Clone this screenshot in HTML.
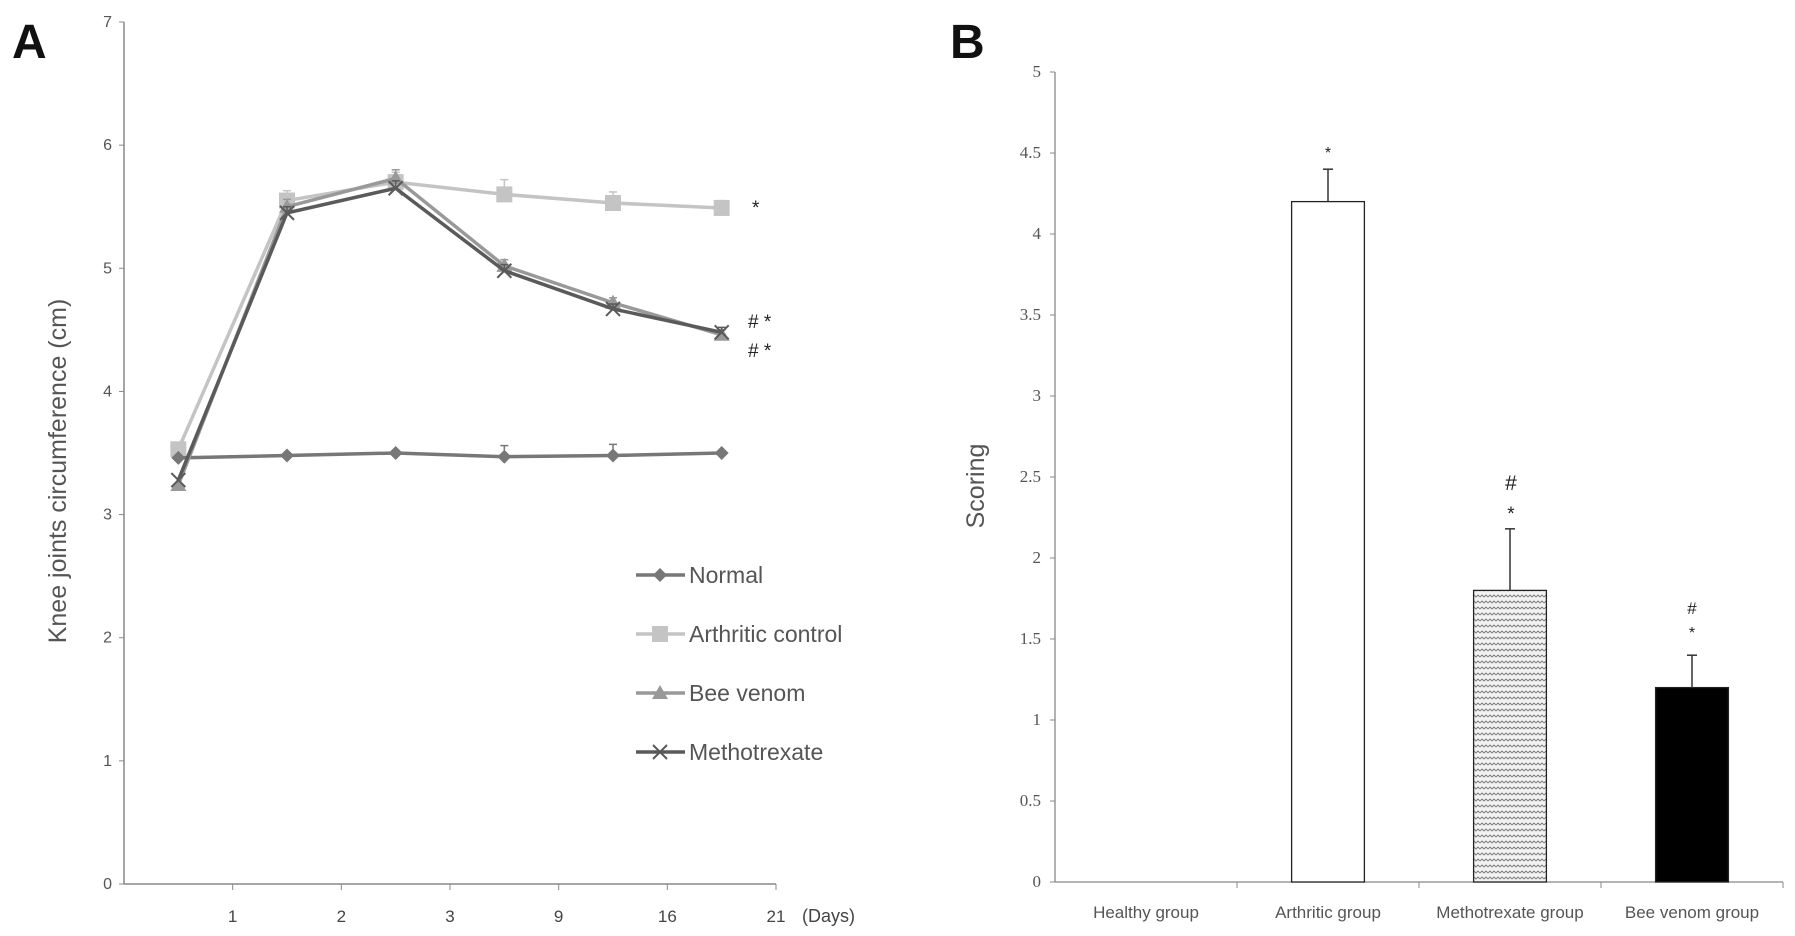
<!DOCTYPE html>
<html><head><meta charset="utf-8"><style>
body{margin:0;background:#fff;}
svg{display:block;}
text{font-family:"Liberation Sans",sans-serif;}
</style></head><body>
<svg id="s" width="1795" height="936" viewBox="0 0 1795 936" xmlns="http://www.w3.org/2000/svg">
<defs>
<pattern id="zig" width="8" height="6" patternUnits="userSpaceOnUse">
<rect width="8" height="6" fill="#f2f2f2"/>
<path d="M0 3 L2 1 L4 3 L6 1 L8 3" fill="none" stroke="#777" stroke-width="0.9"/>
</pattern>
</defs>
<text x="12" y="58" font-size="48" font-weight="bold" fill="#111">A</text>
<text x="950" y="58" font-size="48" font-weight="bold" fill="#111">B</text>
<g id="A"></g>
<g id="B"></g>
</svg>
<script>
const NS="http://www.w3.org/2000/svg";
const lineCats=["1","2","3","9","16","21"];
const yTicksA=[0,1,2,3,4,5,6,7];
const normal=[3.46,3.48,3.5,3.47,3.48,3.5];
const normalErr=[0,0,0,0.09,0.09,0];
const arthritic=[3.53,5.55,5.7,5.6,5.53,5.49];
const arthriticErr=[0,0.08,0.08,0.12,0.09,0.06];
const beeVenom=[3.24,5.5,5.73,5.02,4.72,4.46];
const beeErr=[0,0.06,0.07,0.05,0.04,0.04];
const methotrexate=[3.28,5.45,5.65,4.98,4.67,4.48];
const metErr=[0,0.05,0.06,0.05,0.04,0.04];
const barCats=["Healthy group","Arthritic group","Methotrexate group","Bee venom group"];
const barVals=[0,4.2,1.8,1.2];
const barErrs=[0,0.2,0.38,0.2];
const yTicksB=[0,0.5,1,1.5,2,2.5,3,3.5,4,4.5,5];

function mk(tag,attrs,parent,txt){const e=document.createElementNS(NS,tag);for(const k in attrs)e.setAttribute(k,attrs[k]);if(txt!==undefined)e.textContent=txt;parent.appendChild(e);return e;}

// Panel A
const A=document.getElementById('A');
const ax0=124,ax1=776,ay0=884,ay1=22;
const ya=v=>ay0-(v/7)*(ay0-ay1);
const step=(ax1-ax0)/lineCats.length;
const xp=i=>ax0+step*(i+0.5);
let e;
e=mk('line',{x1:ax0,y1:ay1,x2:ax0,y2:ay0,stroke:'#888','stroke-width':1.5},A);

e=mk('line',{x1:ax0,y1:ay0,x2:ax1,y2:ay0,stroke:'#888','stroke-width':1.5},A);

yTicksA.forEach(v=>{
 mk('line',{x1:ax0-5,y1:ya(v),x2:ax0,y2:ya(v),stroke:'#888'},A);
 e=mk('text',{x:ax0-12,y:ya(v)+5,'font-size':16,fill:'#555','text-anchor':'end'},A,v);
 
});
lineCats.forEach((c,i)=>{
 const x=ax0+step*(i+1);
 mk('line',{x1:x,y1:ay0,x2:x,y2:ay0+6,stroke:'#888'},A);
 e=mk('text',{x:x,y:ay0+38,'font-size':17,fill:'#444','text-anchor':'middle'},A,c);
 
});
e=mk('text',{x:802,y:922,'font-size':18,fill:'#444'},A,'(Days)');

e=mk('text',{x:0,y:0,'font-size':25,fill:'#555','text-anchor':'middle',transform:'translate(66,471) rotate(-90)'},A,'Knee joints circumference (cm)');


function marker(type,x,y,col,g){
 if(type==='diamond')return mk('path',{d:`M${x} ${y-7}L${x+7} ${y}L${x} ${y+7}L${x-7} ${y}Z`,fill:col},g);
 if(type==='square')return mk('rect',{x:x-8,y:y-8,width:16,height:16,fill:col},g);
 if(type==='triangle')return mk('path',{d:`M${x} ${y-8}L${x+8} ${y+6}L${x-8} ${y+6}Z`,fill:col},g);
 return mk('path',{d:`M${x-7} ${y-7}L${x+7} ${y+7}M${x+7} ${y-7}L${x-7} ${y+7}`,stroke:col,'stroke-width':2,fill:'none'},g);
}
const series=[
 {name:'Arthritic control',v:arthritic,err:arthriticErr,col:'#c4c4c4',m:'square'},
 {name:'Normal',v:normal,err:normalErr,col:'#777',m:'diamond'},
 {name:'Bee venom',v:beeVenom,err:beeErr,col:'#999',m:'triangle'},
 {name:'Methotrexate',v:methotrexate,err:metErr,col:'#5a5a5a',m:'x'}];
series.forEach(s=>{
 const g=mk('g',{},A);
 
 
 s.v.forEach((v,i)=>{if(s.err[i]>0){const x=xp(i);
  mk('line',{x1:x,y1:ya(v),x2:x,y2:ya(v+s.err[i]),stroke:s.col,'stroke-width':1.5},g);
  mk('line',{x1:x-4,y1:ya(v+s.err[i]),x2:x+4,y2:ya(v+s.err[i]),stroke:s.col,'stroke-width':1.5},g);}});
 const pl=mk('polyline',{points:s.v.map((v,i)=>xp(i)+','+ya(v)).join(' '),fill:'none',stroke:s.col,'stroke-width':3.5},g);
 
 s.v.forEach((v,i)=>{const p=marker(s.m,xp(i),ya(v),s.col,g);
  });
});
const legOrder=[1,0,2,3];
legOrder.forEach((si,k)=>{
 const s=series[si];const y=575+k*59;
 const g=mk('g',{},A);
 
 mk('line',{x1:636,y1:y,x2:685,y2:y,stroke:s.col,'stroke-width':3.5},g);
 marker(s.m,660,y,s.col,g);
 mk('text',{x:689,y:y+8,'font-size':23,fill:'#555'},g,s.name);
});
[['*',752,214],['# *',748,328],['# *',748,357]].forEach(a=>{
 e=mk('text',{x:a[1],y:a[2],'font-size':19,fill:'#222'},A,a[0]);
 
});

// Panel B
const B=document.getElementById('B');
const bx0=1055,bx1=1783,by0=882,by1=72;
const yb=v=>by0-(v/5)*(by0-by1);
const bw=(bx1-bx0)/barCats.length;
e=mk('line',{x1:bx0,y1:by1,x2:bx0,y2:by0,stroke:'#888','stroke-width':1.3},B);

e=mk('line',{x1:bx0,y1:by0,x2:bx1,y2:by0,stroke:'#888','stroke-width':1.3},B);

yTicksB.forEach(v=>{
 mk('line',{x1:bx0-5,y1:yb(v),x2:bx0,y2:yb(v),stroke:'#888'},B);
 e=mk('text',{x:bx0-14,y:yb(v)+5,'font-size':17,fill:'#555','text-anchor':'end',style:'font-family:"Liberation Serif",serif'},B,v);
 
});
const fills=['#fff','#fff','url(#zig)','#000'];
barCats.forEach((c,i)=>{
 const xe=bx0+bw*(i+1);
 mk('line',{x1:xe,y1:by0,x2:xe,y2:by0+6,stroke:'#888'},B);
 const cx=bx0+bw*(i+0.5);
 e=mk('text',{x:cx,y:918,'font-size':17,fill:'#555','text-anchor':'middle'},B,c);
 
 if(barVals[i]>0){
  const w=bw*0.4;
  const r=mk('rect',{x:cx-w/2,y:yb(barVals[i]),width:w,height:by0-yb(barVals[i]),fill:fills[i],stroke:'#222','stroke-width':1.3},B);
  
  const te=barVals[i]+barErrs[i];
  mk('line',{x1:cx,y1:yb(barVals[i]),x2:cx,y2:yb(te),stroke:'#333','stroke-width':1.5},B);
  mk('line',{x1:cx-5,y1:yb(te),x2:cx+5,y2:yb(te),stroke:'#333','stroke-width':1.5},B);
 }
});
e=mk('text',{x:0,y:0,'font-size':25,fill:'#555','text-anchor':'middle',transform:'translate(984,486) rotate(-90)'},B,'Scoring');

[['*',1328,158,16],['#',1511,490,21],['*',1511,520,19],['#',1692,614,17],['*',1692,638,16]].forEach(a=>{
 e=mk('text',{x:a[1],y:a[2],'font-size':a[3],fill:'#222','text-anchor':'middle'},B,a[0]);
 
});
</script>
</body></html>
